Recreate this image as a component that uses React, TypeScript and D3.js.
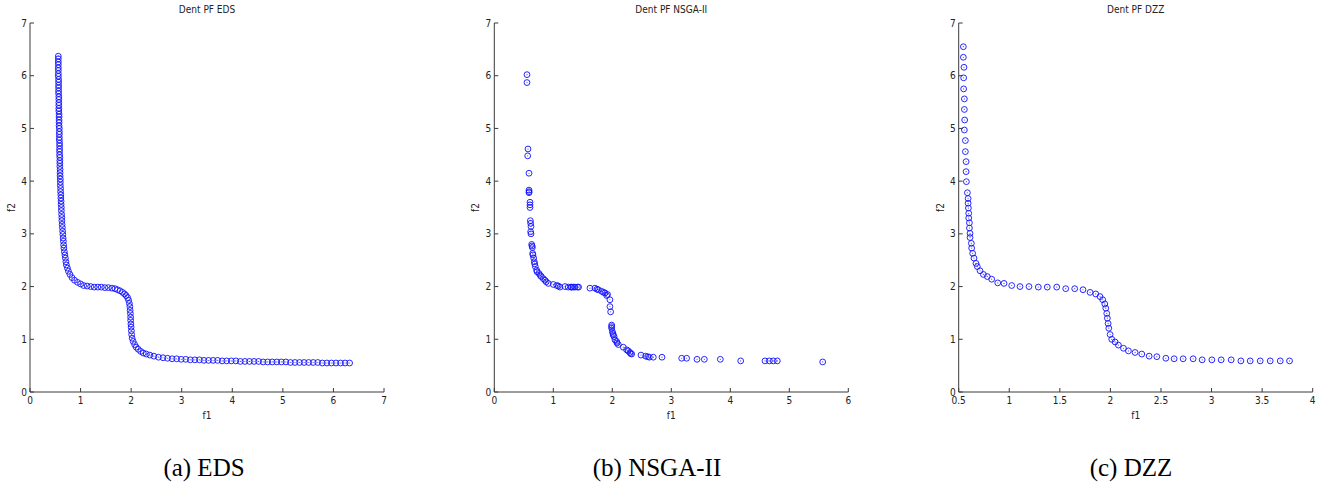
import React from "react";
import * as d3 from "d3";

// ---------- data ----------
const edsPoints: [number, number][] = [
  [0.56, 6.37], [0.56, 6.32], [0.56, 6.26], [0.56, 6.21], [0.56, 6.15], [0.56, 6.1], [0.56, 6.04], [0.56, 5.99],
  [0.565, 5.93], [0.565, 5.88], [0.565, 5.82], [0.565, 5.77], [0.565, 5.71], [0.565, 5.66], [0.57, 5.6],
  [0.57, 5.55], [0.57, 5.49], [0.57, 5.44], [0.57, 5.38], [0.57, 5.33], [0.575, 5.27], [0.575, 5.22], [0.575, 5.16],
  [0.575, 5.11], [0.575, 5.05], [0.58, 5.0], [0.58, 4.94], [0.58, 4.89], [0.58, 4.83], [0.58, 4.78],
  [0.585, 4.72], [0.585, 4.67], [0.585, 4.61], [0.585, 4.56], [0.585, 4.5],
  [0.59, 4.45], [0.59, 4.39], [0.59, 4.34], [0.59, 4.28], [0.595, 4.22], [0.595, 4.16], [0.595, 4.1],
  [0.6, 4.04], [0.6, 3.98], [0.6, 3.92], [0.605, 3.86], [0.605, 3.8], [0.61, 3.74], [0.61, 3.68],
  [0.615, 3.62], [0.615, 3.56], [0.62, 3.5],
  [0.62, 3.44], [0.625, 3.37], [0.63, 3.31], [0.63, 3.25], [0.635, 3.18], [0.64, 3.12], [0.645, 3.05], [0.65, 2.99],
  [0.655, 2.92], [0.66, 2.86], [0.665, 2.79], [0.67, 2.73], [0.68, 2.66], [0.69, 2.6], [0.7, 2.54], [0.71, 2.47],
  [0.72, 2.41], [0.74, 2.35],
  [0.76, 2.29], [0.79, 2.23], [0.83, 2.17], [0.88, 2.12], [0.94, 2.08], [1.0, 2.05], [1.06, 2.02], [1.13, 2.01], [1.2, 2.0],
  [1.27, 1.99], [1.34, 1.99], [1.41, 1.99], [1.48, 1.98], [1.55, 1.98], [1.62, 1.97],
  [1.68, 1.96], [1.73, 1.94], [1.78, 1.92], [1.83, 1.89], [1.87, 1.86], [1.9, 1.83], [1.93, 1.79],
  [1.95, 1.74], [1.965, 1.68], [1.975, 1.62], [1.98, 1.55], [1.985, 1.49], [1.99, 1.42], [1.99, 1.36],
  [1.995, 1.29], [2.0, 1.23], [2.005, 1.16], [2.01, 1.09], [2.02, 1.02],
  [2.04, 0.96], [2.07, 0.9], [2.1, 0.85], [2.14, 0.81], [2.19, 0.77], [2.24, 0.74], [2.3, 0.72], [2.37, 0.7], [2.45, 0.68],
  [2.54, 0.66], [2.63, 0.65], [2.72, 0.64], [2.81, 0.63], [2.9, 0.63], [2.99, 0.62], [3.08, 0.62], [3.17, 0.61],
  [3.26, 0.61], [3.35, 0.61], [3.44, 0.6], [3.53, 0.6], [3.62, 0.6], [3.71, 0.6], [3.8, 0.59], [3.89, 0.59],
  [3.98, 0.59], [4.07, 0.59], [4.16, 0.58], [4.25, 0.58], [4.34, 0.58], [4.43, 0.58], [4.52, 0.58], [4.61, 0.57],
  [4.7, 0.57], [4.79, 0.57], [4.88, 0.57], [4.97, 0.57], [5.06, 0.57], [5.15, 0.56], [5.24, 0.56], [5.33, 0.56],
  [5.42, 0.56], [5.51, 0.56], [5.6, 0.56], [5.69, 0.56], [5.78, 0.55], [5.87, 0.55], [5.96, 0.55], [6.05, 0.55],
  [6.14, 0.55], [6.23, 0.55], [6.32, 0.55],
];

const nsgaPoints: [number, number][] = [
  [0.554, 6.02], [0.554, 5.87], [0.571, 4.61], [0.566, 4.48], [0.588, 4.15], [0.588, 3.83], [0.59, 3.8], [0.588, 3.78],
  [0.605, 3.6], [0.605, 3.55], [0.605, 3.5], [0.611, 3.25], [0.616, 3.2], [0.622, 3.14], [0.616, 3.04], [0.622, 3.0],
  [0.633, 2.8], [0.64, 2.77], [0.645, 2.74], [0.65, 2.63], [0.655, 2.6], [0.667, 2.54], [0.678, 2.47], [0.685, 2.43],
  [0.695, 2.38], [0.718, 2.31], [0.725, 2.28], [0.757, 2.25], [0.78, 2.21], [0.797, 2.19], [0.83, 2.15], [0.859, 2.12],
  [0.88, 2.09], [0.915, 2.06], [1.0, 2.04], [1.06, 2.02], [1.085, 2.01], [1.113, 1.99], [1.198, 2.0], [1.254, 1.99],
  [1.3, 1.99], [1.311, 1.99], [1.339, 1.99], [1.367, 1.99], [1.41, 1.99], [1.429, 1.99],
  [1.621, 1.97], [1.706, 1.97], [1.74, 1.95], [1.763, 1.94], [1.819, 1.91], [1.85, 1.89], [1.876, 1.88], [1.904, 1.83],
  [1.92, 1.85], [1.96, 1.75], [1.96, 1.62], [1.972, 1.52],
  [1.989, 1.27], [1.989, 1.24], [1.989, 1.21], [2.0, 1.15], [2.01, 1.11], [2.017, 1.08], [2.03, 1.05], [2.045, 0.99],
  [2.073, 0.96], [2.08, 0.93], [2.102, 0.9], [2.186, 0.85], [2.243, 0.8], [2.27, 0.78], [2.299, 0.75], [2.31, 0.73],
  [2.328, 0.72], [2.486, 0.7], [2.565, 0.68], [2.6, 0.67], [2.627, 0.66], [2.695, 0.66], [2.842, 0.66], [3.176, 0.64],
  [3.26, 0.64], [3.436, 0.62], [3.56, 0.62], [3.831, 0.62], [4.176, 0.59], [4.588, 0.59], [4.662, 0.59], [4.729, 0.59],
  [4.797, 0.59], [5.566, 0.57],
];

const dzzPoints: [number, number][] = [
  [0.546, 6.55], [0.546, 6.35], [0.552, 6.16], [0.549, 5.96], [0.549, 5.75], [0.556, 5.56], [0.556, 5.36], [0.559, 5.16],
  [0.556, 4.97], [0.566, 4.77], [0.566, 4.56], [0.573, 4.37], [0.573, 4.18], [0.576, 3.99], [0.586, 3.78], [0.593, 3.67],
  [0.593, 3.58], [0.596, 3.49], [0.599, 3.39], [0.599, 3.3], [0.606, 3.21], [0.606, 3.11], [0.612, 3.01], [0.612, 2.93],
  [0.625, 2.82], [0.628, 2.73], [0.638, 2.63], [0.651, 2.54], [0.671, 2.44], [0.684, 2.38], [0.711, 2.3], [0.744, 2.23],
  [0.783, 2.19], [0.826, 2.14], [0.886, 2.07], [0.948, 2.06], [1.024, 2.02], [1.106, 2.0], [1.195, 2.0], [1.287, 1.99],
  [1.376, 1.99], [1.469, 1.99], [1.558, 1.96], [1.647, 1.96], [1.729, 1.94], [1.799, 1.89], [1.855, 1.86], [1.897, 1.81],
  [1.924, 1.75], [1.944, 1.67], [1.954, 1.59], [1.964, 1.49], [1.97, 1.4], [1.977, 1.3], [1.984, 1.21], [1.997, 1.09],
  [2.013, 1.0], [2.046, 0.95], [2.079, 0.89], [2.129, 0.83], [2.178, 0.78], [2.244, 0.75], [2.31, 0.72], [2.383, 0.68],
  [2.459, 0.67], [2.548, 0.64], [2.63, 0.63], [2.719, 0.63], [2.818, 0.63], [2.907, 0.61], [3.003, 0.61], [3.095, 0.61],
  [3.194, 0.61], [3.29, 0.59], [3.382, 0.59], [3.481, 0.59], [3.58, 0.59], [3.679, 0.59], [3.771, 0.59],
];

const yTicks = [0, 1, 2, 3, 4, 5, 6, 7];
const edsXTicks = [0, 1, 2, 3, 4, 5, 6, 7];
const nsgaXTicks = [0, 1, 2, 3, 4, 5, 6];
const dzzXTicks = [0.5, 1, 1.5, 2, 2.5, 3, 3.5, 4];

const titles = ["Dent PF EDS", "Dent PF NSGA-II", "Dent PF DZZ"];
const captions = ["(a) EDS", "(b) NSGA-II", "(c) DZZ"];

// ---------- layout ----------
const W = 1330;
const H = 484;
const TOP = 23;
const BOTTOM = 392;
const PLOT_W = 354;
const TICK_FONT = "'Liberation Sans Narrow', 'DejaVu Sans Condensed', 'Arial Narrow', sans-serif";
const AXIS_COLOR = "#3a3a3a";
const MARK = "#1010ff";

type PanelProps = {
  left: number;
  xDomain: [number, number];
  xTicks: number[];
  points: [number, number][];
  title: string;
  caption: string;
  captionX: number;
};

function Panel({ left, xDomain, xTicks, points, title, caption, captionX }: PanelProps) {
  const x = d3.scaleLinear().domain(xDomain).range([left, left + PLOT_W]);
  const y = d3.scaleLinear().domain([0, 7]).range([BOTTOM, TOP]);
  const fmt = (v: number) => String(v);
  const cx = left + PLOT_W / 2;
  const tl = 4;
  return (
    <g>
      <text x={cx} y={13} textAnchor="middle" fontFamily={TICK_FONT} fontSize={10} fill="#222">
        {title}
      </text>
      <line x1={left} x2={left + PLOT_W} y1={BOTTOM} y2={BOTTOM} stroke={AXIS_COLOR} strokeWidth={1} />
      <line x1={left} x2={left} y1={TOP} y2={BOTTOM} stroke={AXIS_COLOR} strokeWidth={1} />
      {xTicks.map((t) => (
        <g key={"x" + t}>
          <line x1={x(t)} x2={x(t)} y1={BOTTOM} y2={BOTTOM - tl} stroke={AXIS_COLOR} strokeWidth={1} />
          <text x={x(t)} y={404} textAnchor="middle" fontFamily={TICK_FONT} fontSize={10} fill="#222">
            {fmt(t)}
          </text>
        </g>
      ))}
      {yTicks.map((t) => (
        <g key={"y" + t}>
          <line x1={left} x2={left + tl} y1={y(t)} y2={y(t)} stroke={AXIS_COLOR} strokeWidth={1} />
          <text x={left - 3} y={y(t) + 3.5} textAnchor="end" fontFamily={TICK_FONT} fontSize={10} fill="#222">
            {fmt(t)}
          </text>
        </g>
      ))}
      <text x={cx} y={419} textAnchor="middle" fontFamily={TICK_FONT} fontSize={10} fill="#222">
        f1
      </text>
      <text
        transform={`translate(${left - 15},${(TOP + BOTTOM) / 2}) rotate(-90)`}
        textAnchor="middle"
        fontFamily={TICK_FONT}
        fontSize={10}
        fill="#222"
      >
        f2
      </text>
      {points.map(([a, b], i) => (
        <g key={i}>
          <circle cx={x(a)} cy={y(b)} r={2.9} fill="none" stroke={MARK} strokeWidth={1} strokeOpacity={0.9} />
          <circle cx={x(a)} cy={y(b)} r={0.6} fill={MARK} fillOpacity={0.75} />
        </g>
      ))}
      <text x={captionX} y={476} textAnchor="middle" fontFamily="'Liberation Serif', 'Times New Roman', serif" fontSize={25} fill="#000">
        {caption}
      </text>
    </g>
  );
}

export default function App() {
  return (
    <svg
      width={W}
      height={H}
      viewBox={`0 0 ${W} ${H}`}
      style={{ position: "absolute", left: 0, top: 0, background: "#fff", display: "block" }}
    >
      <rect x={0} y={0} width={W} height={H} fill="#fff" />
      <Panel left={30} xDomain={[0, 7]} xTicks={edsXTicks} points={edsPoints} title={titles[0]} caption={captions[0]} captionX={204} />
      <Panel left={494.3} xDomain={[0, 6]} xTicks={nsgaXTicks} points={nsgaPoints} title={titles[1]} caption={captions[1]} captionX={657} />
      <Panel left={958.7} xDomain={[0.5, 4]} xTicks={dzzXTicks} points={dzzPoints} title={titles[2]} caption={captions[2]} captionX={1131} />
    </svg>
  );
}
